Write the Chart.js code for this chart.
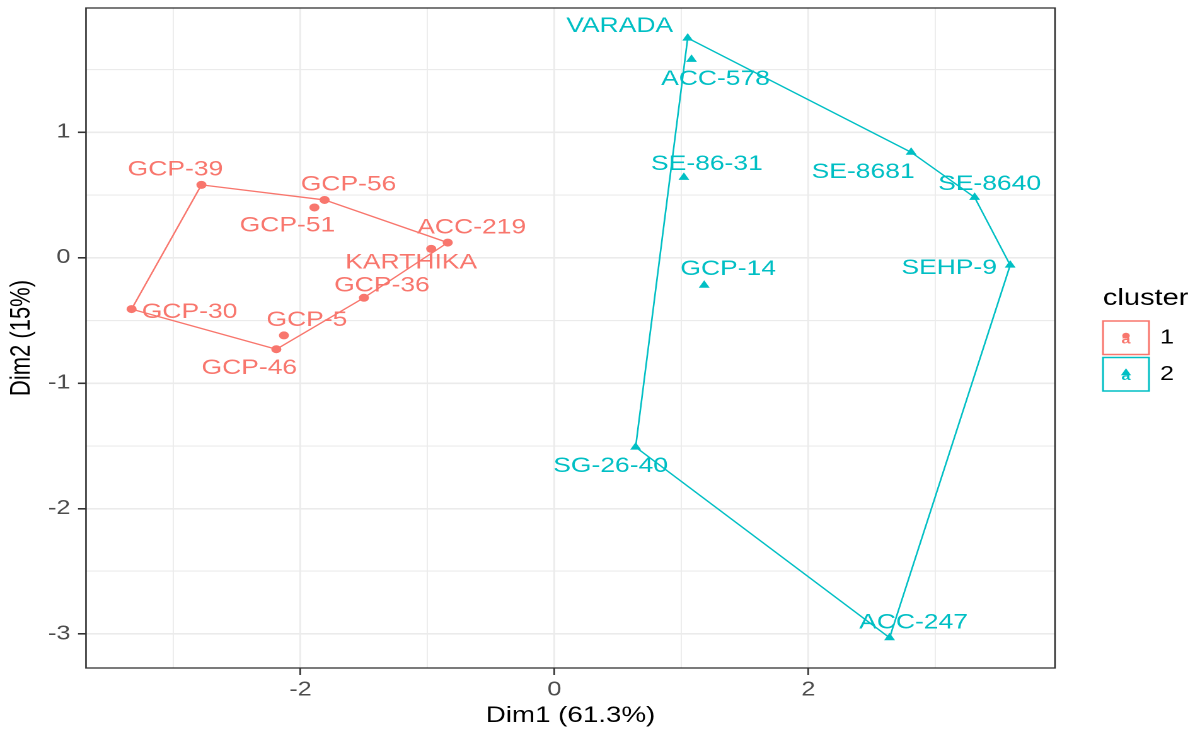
<!DOCTYPE html>
<html>
<head>
<meta charset="utf-8">
<script src="https://cdn.jsdelivr.net/npm/chart.js@4/dist/chart.umd.min.js"></script>
<style>
  html, body { margin: 0; padding: 0; background: #ffffff; overflow: hidden; }
  #wrap { width: 952px; height: 732px; transform: scaleX(1.2605); transform-origin: 0 0; }
</style>
</head>
<body>
<div id="wrap"><canvas id="c" width="952" height="732"></canvas></div>
<script>
// ---------------- data ----------------
const names1 = ['GCP-39', 'GCP-56', 'GCP-51', 'ACC-219', 'KARTHIKA', 'GCP-36', 'GCP-5', 'GCP-46', 'GCP-30'];
const dim1Cluster1 = [-2.78, -1.81, -1.89, -0.84, -0.97, -1.50, -2.13, -2.19, -3.33];
const dim2Cluster1 = [0.58, 0.46, 0.40, 0.12, 0.07, -0.32, -0.62, -0.73, -0.41];

const names2 = ['VARADA', 'ACC-578', 'SE-86-31', 'SE-8681', 'SE-8640', 'SEHP-9', 'GCP-14', 'SG-26-40', 'ACC-247'];
const dim1Cluster2 = [1.05, 1.08, 1.02, 2.81, 3.31, 3.59, 1.18, 0.64, 2.64];
const dim2Cluster2 = [1.75, 1.58, 0.64, 0.84, 0.48, -0.06, -0.22, -1.51, -3.03];

// convex hull vertex order (indices into the cluster arrays)
const hullOrder1 = [0, 1, 3, 5, 7, 8, 0];
const hullOrder2 = [0, 3, 4, 5, 8, 7, 0];

const clusterNames = ['1', '2'];
const xTickValues = [-3, -2, -1, 0, 1, 2, 3];
const xTickLabels = ['', '-2', '', '0', '', '2', ''];
const yTickValues = [-3, -2.5, -2, -1.5, -1, -0.5, 0, 0.5, 1, 1.5];
const yTickLabels = ['-3', '', '-2', '', '-1', '', '0', '', '1', ''];

// ---------------- styling / label placement ----------------
const STRETCH = 1200 / 952;
const COL1 = '#F8766D';
const COL2 = '#00BFC4';
const FONT = '"Liberation Sans", Arial, Helvetica, sans-serif';
// label offsets from point, in reference-picture pixels [dx, dy]
const labelShift1 = [[-26, -15], [24, -15], [-27, 18], [24, -15], [-20, 14], [18, -12], [23, -15], [-27, 19], [58, 3]];
const labelShift2 = [[-68, -12], [24, 20], [23, -13], [-48, 20], [15, -13], [-61, 3], [24, -16], [-25, 19], [24, -15]];

const pts = (xs, ys) => xs.map((x, i) => ({ x: x, y: ys[i] }));
const hull = (xs, ys, order) => order.map(i => ({ x: xs[i], y: ys[i] }));

const labelPlugin = {
  id: 'pointLabels',
  afterDatasetsDraw(chart) {
    const ctx = chart.ctx;
    ctx.save();
    ctx.font = '21px ' + FONT;
    ctx.textAlign = 'center';
    ctx.textBaseline = 'middle';
    chart.data.datasets.forEach((ds, di) => {
      if (!ds.pointNames) return;
      const meta = chart.getDatasetMeta(di);
      ctx.fillStyle = ds.backgroundColor;
      meta.data.forEach((el, i) => {
        const s = ds.labelShift[i];
        ctx.fillText(ds.pointNames[i], el.x + s[0] / STRETCH, el.y + s[1]);
      });
    });
    ctx.restore();
  }
};

const frameAndLegendPlugin = {
  id: 'frameLegend',
  beforeDatasetsDraw(chart) {
    const a = chart.chartArea, ctx = chart.ctx;
    ctx.save();
    ctx.strokeStyle = '#333333';
    ctx.lineWidth = 1.3;
    ctx.strokeRect(a.left, a.top, a.right - a.left, a.bottom - a.top);
    ctx.restore();
  },
  afterDraw(chart) {
    const ctx = chart.ctx;
    const x0 = 1103 / STRETCH;
    ctx.save();
    ctx.fillStyle = '#000000';
    ctx.font = '23px ' + FONT;
    ctx.textAlign = 'left';
    ctx.textBaseline = 'alphabetic';
    ctx.fillText('cluster', x0, 305);
    const cols = [COL1, COL2];
    const boxTop = [321, 357.5];
    const bw = 46 / STRETCH, bh = 33.5;
    clusterNames.forEach((nm, k) => {
      const y = boxTop[k];
      ctx.fillStyle = '#ffffff';
      ctx.fillRect(x0, y, bw, bh);
      ctx.strokeStyle = cols[k];
      ctx.lineWidth = 1.5;
      ctx.strokeRect(x0, y, bw, bh);
      const cx = x0 + bw / 2, cy = y + bh / 2;
      ctx.fillStyle = cols[k];
      ctx.font = 'bold 13px ' + FONT;
      ctx.textAlign = 'center';
      ctx.textBaseline = 'middle';
      ctx.fillText('a', cx, cy + 2);
      ctx.beginPath();
      if (k === 0) {
        ctx.arc(cx, cy - 2, 3, 0, Math.PI * 2);
      } else {
        ctx.moveTo(cx, cy - 6); ctx.lineTo(cx + 4, cy + 1); ctx.lineTo(cx - 4, cy + 1); ctx.closePath();
      }
      ctx.fill();
      ctx.fillStyle = '#000000';
      ctx.font = '20px ' + FONT;
      ctx.textAlign = 'left';
      ctx.fillText(nm, 1160 / STRETCH, cy);
    });
    ctx.restore();
  }
};

const isLabelled = (labels, values, v) => {
  const i = values.indexOf(v);
  return i >= 0 && labels[i] !== '';
};

new Chart(document.getElementById('c'), {
  type: 'scatter',
  data: {
    datasets: [
      {
        data: hull(dim1Cluster1, dim2Cluster1, hullOrder1),
        showLine: true, borderColor: COL1, borderWidth: 1.3, pointRadius: 0, tension: 0, order: 3
      },
      {
        data: hull(dim1Cluster2, dim2Cluster2, hullOrder2),
        showLine: true, borderColor: COL2, borderWidth: 1.3, pointRadius: 0, tension: 0, order: 3
      },
      {
        data: pts(dim1Cluster1, dim2Cluster1),
        pointNames: names1, labelShift: labelShift1,
        backgroundColor: COL1, borderColor: COL1, borderWidth: 0,
        pointStyle: 'circle', pointRadius: 4, order: 1
      },
      {
        data: pts(dim1Cluster2, dim2Cluster2),
        pointNames: names2, labelShift: labelShift2,
        backgroundColor: COL2, borderColor: COL2, borderWidth: 0,
        pointStyle: 'triangle', pointRadius: 5, order: 1
      }
    ]
  },
  options: {
    responsive: false,
    animation: false,
    devicePixelRatio: 2,
    layout: { padding: { top: 8, right: 952 - 1055 / STRETCH, left: 0, bottom: 0 } },
    plugins: { legend: { display: false }, tooltip: { enabled: false } },
    scales: {
      x: {
        type: 'linear',
        min: -3.689, max: 3.943,
        afterBuildTicks: s => { s.ticks = xTickValues.map(v => ({ value: v })); },
        afterFit: s => { s.height = 64; s.paddingLeft = 0; s.paddingRight = 0; },
        border: { display: false },
        grid: {
          color: '#EBEBEB',
          lineWidth: c => (c.tick && isLabelled(xTickLabels, xTickValues, c.tick.value)) ? 1.3 : 0.9,
          drawTicks: true,
          tickLength: 7,
          tickWidth: 1.3,
          tickColor: c => (c.tick && isLabelled(xTickLabels, xTickValues, c.tick.value)) ? '#333333' : 'rgba(0,0,0,0)'
        },
        ticks: {
          color: '#4D4D4D',
          font: { family: FONT, size: 20 },
          padding: 3,
          maxRotation: 0,
          autoSkip: false,
          callback: v => { const i = xTickValues.indexOf(v); return i >= 0 ? xTickLabels[i] : ''; }
        },
        title: {
          display: true, text: 'Dim1 (61.3%)', color: '#000000',
          font: { family: FONT, size: 22 }, padding: { top: 0, bottom: 3 }
        }
      },
      y: {
        type: 'linear',
        min: -3.271, max: 1.99,
        afterBuildTicks: s => { s.ticks = yTickValues.map(v => ({ value: v })); },
        afterFit: s => { s.width = 86 / STRETCH; s.paddingTop = 0; s.paddingBottom = 0; },
        border: { display: false },
        grid: {
          color: '#EBEBEB',
          lineWidth: c => (c.tick && isLabelled(yTickLabels, yTickValues, c.tick.value)) ? 1.6 : 1.1,
          drawTicks: true,
          tickLength: 8 / STRETCH,
          tickWidth: 1.6,
          tickColor: c => (c.tick && isLabelled(yTickLabels, yTickValues, c.tick.value)) ? '#333333' : 'rgba(0,0,0,0)'
        },
        ticks: {
          color: '#4D4D4D',
          font: { family: FONT, size: 20 },
          padding: 6,
          autoSkip: false,
          callback: v => { const i = yTickValues.indexOf(v); return i >= 0 ? yTickLabels[i] : ''; }
        },
        title: {
          display: true, text: 'Dim2 (15%)', color: '#000000',
          font: { family: FONT, size: 22 }, padding: { top: 4, bottom: 0 }
        }
      }
    }
  },
  plugins: [labelPlugin, frameAndLegendPlugin]
});
</script>
</body>
</html>
